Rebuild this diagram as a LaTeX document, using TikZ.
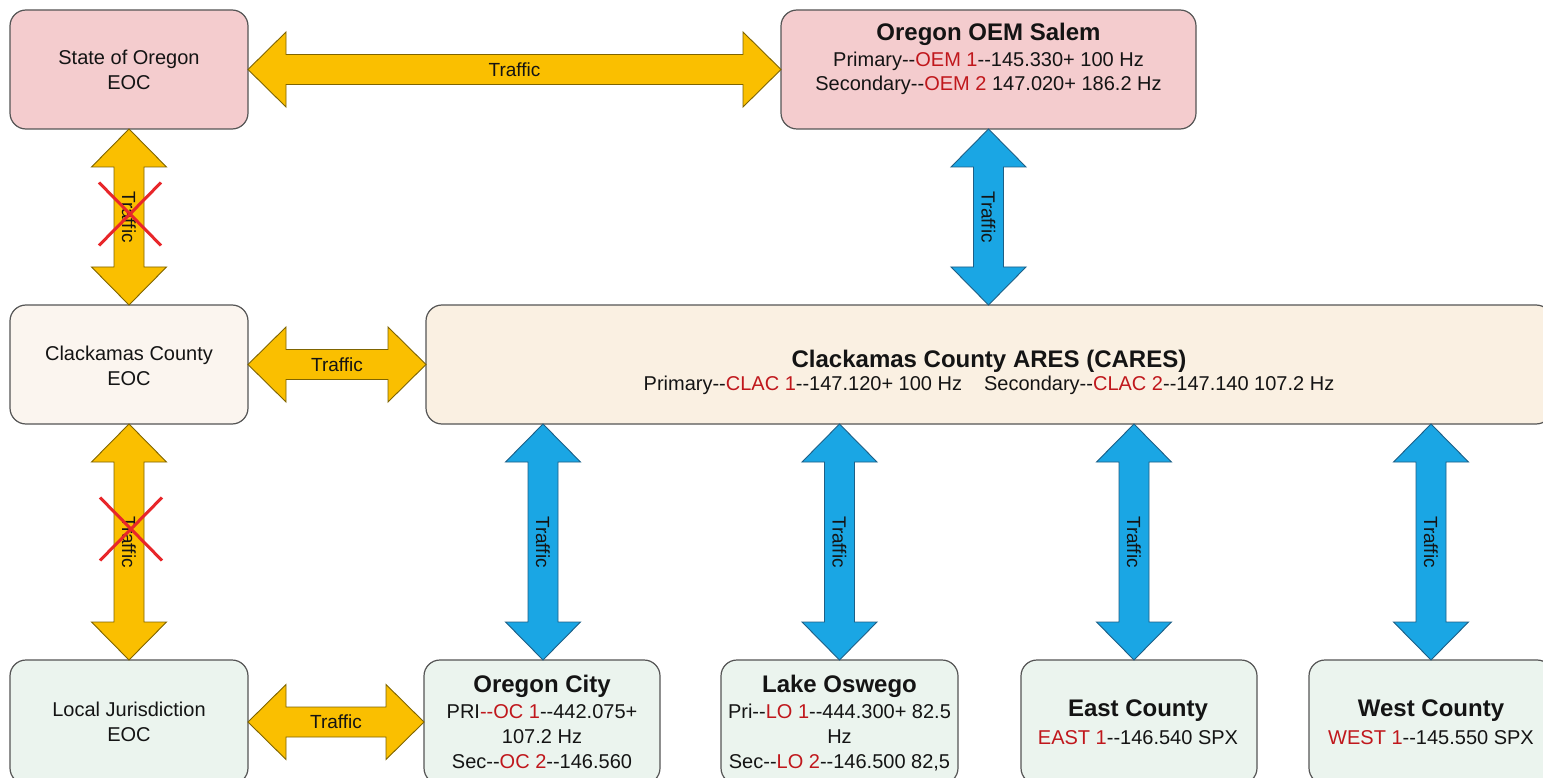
\documentclass[tikz,border=0pt]{standalone}
\usepackage{fontspec}
\setmainfont{Liberation Sans}
\usetikzlibrary{calc,shapes.misc}
\definecolor{ink}{HTML}{141414}
\definecolor{codered}{HTML}{C0171C}
\definecolor{boxline}{HTML}{555555}
\definecolor{pinkfill}{HTML}{F4CCCE}
\definecolor{creamA}{HTML}{FBF5EF}
\definecolor{creamB}{HTML}{FAF0E2}
\definecolor{greenfill}{HTML}{EBF4EE}
\definecolor{arrYellow}{HTML}{FABF00}
\definecolor{arrYellowLine}{HTML}{7F6400}
\definecolor{arrBlue}{HTML}{1AA6E4}
\definecolor{arrBlueLine}{HTML}{1D5F86}
\definecolor{xred}{HTML}{E8262A}
\newcommand\rc[1]{\textcolor{codered}{#1}}
% horizontal double block arrow: #1 left tip, #2 right tip, #3 style
\newcommand\hArrow[3]{%
  \filldraw[#3] let \p1=(#1), \p2=(#2) in
    (\x1,\y1) -- (\x1+38pt,\y1+37.5pt) -- (\x1+38pt,\y1+15pt) -- (\x2-38pt,\y1+15pt)
    -- (\x2-38pt,\y1+37.5pt) -- (\x2,\y1) -- (\x2-38pt,\y1-37.5pt) -- (\x2-38pt,\y1-15pt)
    -- (\x1+38pt,\y1-15pt) -- (\x1+38pt,\y1-37.5pt) -- cycle;
  \path let \p1=(#1), \p2=(#2) in node[lbl] at ({0.5*\x1+0.5*\x2},\y1) {Traffic};}
% vertical double block arrow: #1 top tip (y), #2 bottom tip (x,y), #3 style
\newcommand\vArrow[3]{%
  \filldraw[#3] let \p1=(#1), \p2=(#2) in
    (\x2,\y1) -- (\x2+37.5pt,\y1-38pt) -- (\x2+15pt,\y1-38pt) -- (\x2+15pt,\y2+38pt)
    -- (\x2+37.5pt,\y2+38pt) -- (\x2,\y2) -- (\x2-37.5pt,\y2+38pt) -- (\x2-15pt,\y2+38pt)
    -- (\x2-15pt,\y1-38pt) -- (\x2-37.5pt,\y1-38pt) -- cycle;
  \path let \p1=(#1), \p2=(#2) in node[lbl,rotate=-90] at (\x2,{0.5*\y1+0.5*\y2}) {Traffic};}
\begin{document}
\begin{tikzpicture}[x=1pt,y=-1pt,
  box/.style={draw=boxline, line width=1.2pt, rounded corners=16pt, inner sep=0pt, outer sep=0pt},
  ln/.style={anchor=base, inner sep=0pt, font=\fontsize{20}{24}\selectfont, text=ink},
  ttl/.style={anchor=base, inner sep=0pt, font=\fontsize{24}{28}\selectfont\bfseries, text=ink},
  lbl/.style={inner sep=0pt, font=\fontsize{19}{21}\selectfont, text=ink},
  yarr/.style={fill=arrYellow, draw=arrYellowLine, line width=0.9pt, line join=miter},
  barr/.style={fill=arrBlue, draw=arrBlueLine, line width=0.9pt, line join=miter},
  xmark/.style={cross out, draw=xred, line width=3pt, minimum width=59pt, minimum height=60pt, inner sep=0pt}]
\useasboundingbox (0,0) rectangle (1543,778);
\clip (0,0) rectangle (1543,778);
\fill[white] (0,0) rectangle (1543,778);

% boxes
\node[box, fill=pinkfill, minimum width=238pt, minimum height=119pt] (state) at (129,69.5) {};
\node[box, fill=pinkfill, minimum width=415pt, minimum height=119pt] (oem) at (988.5,69.5) {};
\node[box, fill=creamA, minimum width=238pt, minimum height=119pt] (ceoc) at (129,364.5) {};
\node[box, fill=creamB, minimum width=1126pt, minimum height=119pt] (cares) at (989,364.5) {};
\node[box, fill=greenfill, minimum width=238pt, minimum height=124pt] (local) at (129,722) {};
\node[box, fill=greenfill, minimum width=236pt, minimum height=124pt] (oc) at (542,722) {};
\node[box, fill=greenfill, minimum width=237pt, minimum height=124pt] (lo) at (839.5,722) {};
\node[box, fill=greenfill, minimum width=236pt, minimum height=124pt] (east) at (1139,722) {};
\node[box, fill=greenfill, minimum width=244pt, minimum height=124pt] (west) at (1431,722) {};

% connectors
\hArrow{state.east}{oem.west}{yarr}
\vArrow{state.south}{ceoc.north}{yarr}
\hArrow{ceoc.east}{cares.west}{yarr}
\vArrow{ceoc.south}{local.north}{yarr}
\hArrow{local.east}{oc.west}{yarr}
\vArrow{oem.south}{oem.south |- cares.north}{barr}
\vArrow{cares.south}{[xshift=1pt]oc.north}{barr}
\vArrow{cares.south}{lo.north}{barr}
\vArrow{cares.south}{[xshift=-5pt]east.north}{barr}
\vArrow{cares.south}{west.north}{barr}

% crossed-out links
\node[xmark] (x1) at (130,214) {};
\node[xmark] (x2) at (131,529) {};

% texts
\node[ln] (stateA) at (129,65) {State of Oregon};
\node[ln] (stateB) at (129,90) {EOC};
\node[ttl] (oemA) at (988.5,41) {Oregon OEM Salem};
\node[ln] (oemB) at (988.5,67) {Primary-{}-\rc{OEM 1}-{}-145.330+ 100 Hz};
\node[ln] (oemC) at (988.5,91) {Secondary-{}-\rc{OEM 2} 147.020+ 186.2 Hz};
\node[ln] (ceocA) at (129,360) {Clackamas County};
\node[ln] (ceocB) at (129,385) {EOC};
\node[ttl] (caresA) at (989,367) {Clackamas County ARES (CARES)};
\node[ln] (caresB) at (989,390) {Primary-{}-\rc{CLAC 1}-{}-147.120+ 100 Hz\hspace{22pt}Secondary-{}-\rc{CLAC 2}-{}-147.140 107.2 Hz};
\node[ln] (localA) at (129,716) {Local Jurisdiction};
\node[ln] (localB) at (129,741) {EOC};
\node[ttl] (ocA) at (542,692) {Oregon City};
\node[ln] (ocB) at (542,718) {PRI\rc{-{}-OC 1}-{}-442.075+};
\node[ln] (ocC) at (542,743) {107.2 Hz};
\node[ln] (ocD) at (542,768) {Sec-{}-\rc{OC 2}-{}-146.560};
\node[ttl] (loA) at (839.5,692) {Lake Oswego};
\node[ln] (loB) at (839.5,718) {Pri-{}-\rc{LO 1}-{}-444.300+ 82.5};
\node[ln] (loC) at (839.5,743) {Hz};
\node[ln] (loD) at (839.5,768) {Sec-{}-\rc{LO 2}-{}-146.500 82,5};
\node[ttl] (eastA) at (1138,716) {East County};
\node[ln] (eastB) at (1138,744) {\rc{EAST 1}-{}-146.540 SPX};
\node[ttl] (westA) at (1431,716) {West County};
\node[ln] (westB) at (1431,744) {\rc{WEST 1}-{}-145.550 SPX};
\end{tikzpicture}
\end{document}
